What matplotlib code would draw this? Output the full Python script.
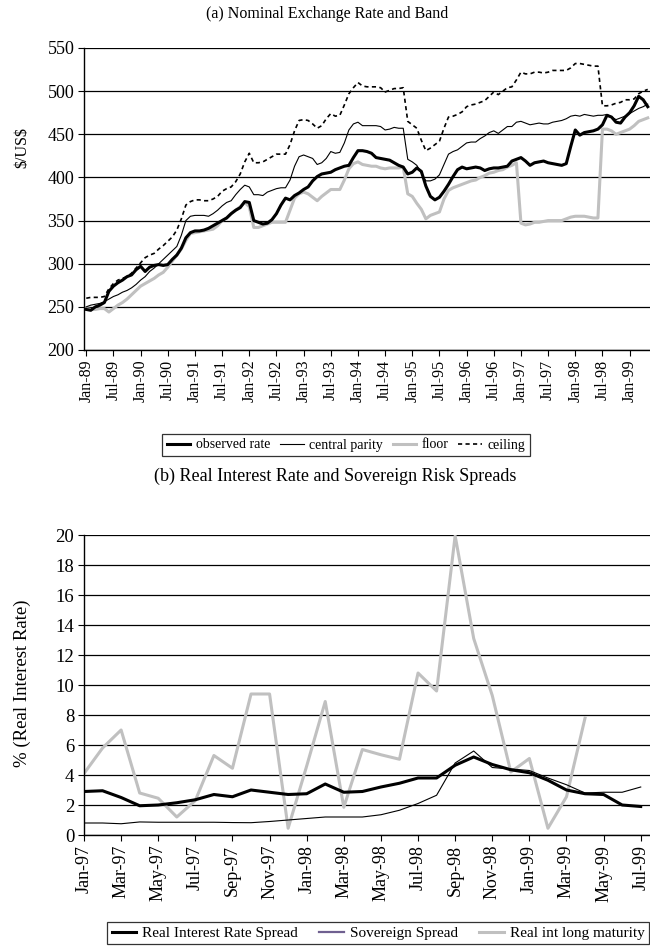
import matplotlib
matplotlib.use('Agg')
import matplotlib.pyplot as plt
from matplotlib.lines import Line2D
import numpy as np

plt.rcParams['font.family'] = ['Liberation Serif', 'DejaVu Serif']

# ---- panel (a): monthly, Jan-89 .. May-99
observed = [247, 246, 250, 252, 255, 268, 274, 278, 281, 285, 287, 293, 297, 291, 296, 298,
            299, 298, 299, 305, 310, 318, 330, 336, 338, 338, 339, 341, 344, 347, 350, 353,
            358, 362, 365, 372, 371, 350, 348, 346, 347, 351, 358, 368, 376, 374, 379, 382,
            386, 389, 396, 401, 404, 405, 406, 409, 411, 413, 414, 423, 431, 431, 430, 428,
            423, 422, 421, 420, 417, 414, 412, 404, 406, 411, 407, 390, 378, 374, 377, 384,
            392, 401, 409, 412, 410, 411, 412, 411, 408, 410, 411, 411, 412, 413, 419, 421,
            423, 419, 414, 417, 418, 419, 417, 416, 415, 414, 416, 436, 455, 449, 452, 453,
            454, 456, 461, 472, 470, 464, 463, 470, 475, 483, 494, 490, 482]
central = [250, 252, 253, 254, 256, 259, 262, 264, 267, 269, 272, 276, 281, 285, 291, 295,
           300, 305, 310, 315, 320, 333, 350, 355, 356, 356, 356, 355, 358, 362, 367, 371,
           373, 380, 386, 391, 389, 380, 380, 379, 383, 385, 387, 388, 388, 397, 413, 424,
           426, 424, 422, 415, 417, 422, 430, 428, 429, 440, 455, 462, 464, 460, 460, 460,
           460, 459, 455, 456, 458, 457, 457, 421, 418, 414, 405, 396, 396, 398, 403, 415,
           427, 430, 432, 436, 440, 441, 441, 445, 448, 452, 454, 451, 455, 459, 459, 464,
           465, 463, 461, 462, 463, 462, 462, 464, 465, 466, 468, 471, 472, 471, 473, 472,
           471, 472, 472, 473, 470, 467, 469, 471, 474, 477, 480, 482, 485]
floor = [248, 247, 247, 248, 248, 244, 248, 252, 255, 259, 264, 269, 274, 277, 280, 283,
         287, 290, 296, 303, 310, 317, 327, 335, 336, 337, 338, 339, 340, 344, 350, 353,
         358, 362, 366, 371, 366, 342, 342, 344, 346, 348, 348, 348, 348, 362, 376, 381,
         383, 381, 377, 373, 378, 382, 386, 386, 386, 397, 410, 416, 418, 415, 414, 413,
         413, 411, 410, 411, 411, 411, 412, 381, 378, 370, 363, 352, 356, 358, 360, 375,
         385, 388, 390, 392, 394, 396, 397, 400, 402, 405, 406, 408, 409, 412, 414, 417,
         347, 345, 346, 348, 348, 349, 350, 350, 350, 350, 352, 354, 355, 355, 355, 354,
         353, 353, 456, 456, 454, 450, 452, 454, 456, 460, 465, 467, 469]
ceiling = [260, 261, 261, 261, 262, 271, 277, 281, 283, 285, 289, 295, 301, 307, 310, 312,
           317, 321, 326, 331, 339, 352, 368, 372, 374, 374, 373, 373, 375, 378, 384, 387,
           389, 395, 404, 418, 428, 417, 417, 418, 421, 424, 427, 427, 427, 438, 454, 466,
           467, 466, 462, 457, 460, 468, 474, 471, 472, 484, 497, 504, 510, 506, 505, 505,
           505, 504, 499, 501, 503, 503, 504, 465, 461, 457, 443, 431, 434, 438, 442, 457,
           470, 471, 473, 476, 482, 484, 485, 487, 489, 494, 499, 496, 500, 504, 505, 513,
           522, 520, 520, 522, 522, 521, 522, 524, 524, 524, 524, 527, 532, 532, 531, 530,
           529, 529, 483, 483, 484, 486, 487, 490, 490, 491, 497, 500, 502]
labels_a = ['Jan-89', 'Jul-89', 'Jan-90', 'Jul-90', 'Jan-91', 'Jul-91', 'Jan-92', 'Jul-92',
            'Jan-93', 'Jul-93', 'Jan-94', 'Jul-94', 'Jan-95', 'Jul-95', 'Jan-96', 'Jul-96',
            'Jan-97', 'Jul-97', 'Jan-98', 'Jul-98', 'Jan-99']

# ---- panel (b): monthly, Jan-97 .. Jul-99
rir_spread = [2.9, 2.95, 2.5, 1.95, 2.0, 2.15, 2.35, 2.7, 2.55, 3.0, 2.85, 2.7, 2.75, 3.4,
              2.85, 2.9, 3.2, 3.45, 3.8, 3.8, 4.65, 5.2, 4.7, 4.35, 4.15, 3.65, 3.0, 2.75,
              2.7, 2.0, 1.9]
sov_spread = [0.8, 0.8, 0.75, 0.87, 0.85, 0.85, 0.85, 0.85, 0.83, 0.82, 0.9, 1.0, 1.1, 1.2,
              1.2, 1.2, 1.35, 1.65, 2.1, 2.65, 4.8, 5.6, 4.5, 4.4, 4.3, 3.8, 3.35, 2.8,
              2.85, 2.85, 3.2]
long_mat = [4.1, 5.8, 7.0, 2.8, 2.45, 1.2, 2.3, 5.3, 4.45, 9.4, 9.4, 0.45, 4.6, 8.9, 1.85,
            5.7, 5.35, 5.05, 10.8, 9.6, 19.95, 13.1, 9.3, 4.2, 5.1, 0.45, 2.55, 7.8,
            np.nan, np.nan, np.nan]
labels_b = ['Jan-97', 'Mar-97', 'May-97', 'Jul-97', 'Sep-97', 'Nov-97', 'Jan-98', 'Mar-98',
            'May-98', 'Jul-98', 'Sep-98', 'Nov-98', 'Jan-99', 'Mar-99', 'May-99', 'Jul-99']

W, H = 650, 951
fig = plt.figure(figsize=(W / 100, H / 100), dpi=100)


def style(ax, fx, fy):
    for s in ['top', 'right']:
        ax.spines[s].set_visible(False)
    ax.spines['left'].set_linewidth(1.0)
    ax.spines['bottom'].set_linewidth(1.0)
    ax.yaxis.grid(True, color='black', linewidth=0.9)
    ax.set_axisbelow(True)
    ax.tick_params(axis='both', direction='out', length=4, width=0.8, pad=3)
    ax.tick_params(axis='x', labelrotation=90, labelsize=fx)
    ax.tick_params(axis='y', labelsize=fy)


# (a)
ax1 = fig.add_axes([84 / W, 1 - 350 / H, (650 - 84) / W, (350 - 48) / H])
m = np.arange(len(observed))
ax1.plot(m, floor, color='#c0c0c0', lw=2.2)
ax1.plot(m, ceiling, color='black', lw=1.2, dashes=(2.5, 2))
ax1.plot(m, central, color='black', lw=0.8)
ax1.plot(m, observed, color='black', lw=2.2)
ax1.set_xlim(-0.5, len(observed) - 0.5)
ax1.set_ylim(200, 550)
ax1.set_yticks(range(200, 551, 50))
ax1.set_xticks(np.arange(0, len(observed), 6))
ax1.set_xticklabels(labels_a)
style(ax1, 11.5, 13)
fig.text(327 / W, 1 - 14 / H, '(a) Nominal Exchange Rate and Band', ha='center', va='center', fontsize=11.5)
fig.text(22 / W, 1 - 148 / H, r'\$/US\$', rotation=90, ha='center', va='center', fontsize=11.5)
h1 = [Line2D([], [], color='black', lw=2.2), Line2D([], [], color='black', lw=0.8),
      Line2D([], [], color='#c0c0c0', lw=2.2), Line2D([], [], color='black', lw=1.2, dashes=(2.5, 2))]
leg1 = fig.legend(h1, ['observed rate', 'central parity', 'floor', 'ceiling'], ncol=4,
                  loc='center', bbox_to_anchor=(346 / W, 1 - 445 / H), fontsize=10,
                  frameon=True, fancybox=False, edgecolor='black', handlelength=1.7,
                  columnspacing=0.7, handletextpad=0.4, borderpad=0.35)
leg1.get_frame().set_linewidth(0.9)

# (b)
ax2 = fig.add_axes([84 / W, 1 - 835 / H, (650 - 84) / W, (835 - 535) / H])
i = np.arange(len(rir_spread))
ax2.plot(i, long_mat, color='#c0c0c0', lw=2.2)
ax2.plot(i, sov_spread, color='black', lw=0.8)
ax2.plot(i, rir_spread, color='black', lw=2.2)
ax2.set_xlim(0, 30.5)
ax2.set_ylim(0, 20)
ax2.set_yticks(range(0, 21, 2))
ax2.set_xticks(np.arange(0, len(rir_spread), 2))
ax2.set_xticklabels(labels_b)
style(ax2, 13, 13.5)
fig.text(335 / W, 1 - 476 / H, '(b) Real Interest Rate and Sovereign Risk Spreads', ha='center', va='center', fontsize=13)
fig.text(22 / W, 1 - 683 / H, '% (Real Interest Rate)', rotation=90, ha='center', va='center', fontsize=13.5)
h2 = [Line2D([], [], color='black', lw=2.2), Line2D([], [], color='#6f6090', lw=1.6),
      Line2D([], [], color='#c0c0c0', lw=2.2)]
leg2 = fig.legend(h2, ['Real Interest Rate Spread', 'Sovereign Spread', 'Real int long maturity'], ncol=3,
                  loc='center', bbox_to_anchor=(378 / W, 1 - 933 / H), fontsize=11,
                  frameon=True, fancybox=False, edgecolor='black', handlelength=1.6,
                  columnspacing=1.4, handletextpad=0.4, borderpad=0.3)
leg2.get_frame().set_linewidth(0.9)

fig.savefig('out.png', dpi=100)
